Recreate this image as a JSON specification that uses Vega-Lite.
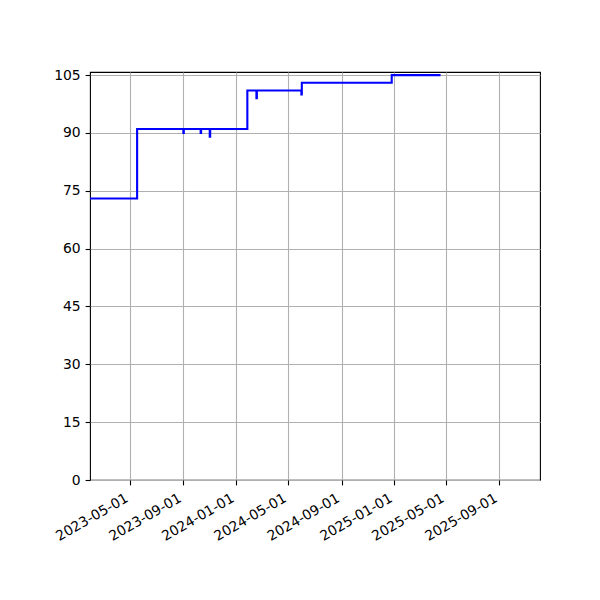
{
  "$schema": "https://vega.github.io/schema/vega-lite/v6.json",
  "width": 450,
  "height": 408,
  "autosize": {"type": "none"},
  "padding": {"left": 90, "top": 72, "right": 60, "bottom": 120},
  "background": "white",
  "config": {
    "view": {"stroke": "black", "strokeWidth": 1.1},
    "axis": {
      "domain": false,
      "grid": true,
      "gridColor": "#b0b0b0",
      "gridWidth": 1.1,
      "ticks": true,
      "tickColor": "black",
      "tickSize": 4.9,
      "tickWidth": 1.1,
      "labelFont": "DejaVu Sans",
      "labelFontSize": 13.9,
      "labelColor": "black",
      "labelPadding": 4.9,
      "labelOverlap": false,
      "title": null
    }
  },
  "data": {
    "values": [
      {"date": "2023-01-20", "value": 73},
      {"date": "2023-05-17", "value": 91},
      {"date": "2023-09-01", "value": 90},
      {"date": "2023-09-02", "value": 91},
      {"date": "2023-10-11", "value": 90},
      {"date": "2023-10-12", "value": 91},
      {"date": "2023-11-01", "value": 89},
      {"date": "2023-11-02", "value": 91},
      {"date": "2024-01-27", "value": 101},
      {"date": "2024-02-17", "value": 99},
      {"date": "2024-02-18", "value": 101},
      {"date": "2024-05-31", "value": 100},
      {"date": "2024-06-01", "value": 103},
      {"date": "2024-12-26", "value": 105},
      {"date": "2025-04-18", "value": 105}
    ]
  },
  "mark": {
    "type": "line",
    "interpolate": "step-after",
    "color": "#0000ff",
    "strokeWidth": 2.1,
    "clip": true
  },
  "encoding": {
    "x": {
      "field": "date",
      "type": "temporal",
      "scale": {
        "type": "utc",
        "domain": [
          {"year": 2023, "month": 1, "date": 28, "utc": true},
          {"year": 2025, "month": 12, "date": 4, "utc": true}
        ]
      },
      "axis": {
        "values": [
          {"year": 2023, "month": 5, "date": 1, "utc": true},
          {"year": 2023, "month": 9, "date": 1, "utc": true},
          {"year": 2024, "month": 1, "date": 1, "utc": true},
          {"year": 2024, "month": 5, "date": 1, "utc": true},
          {"year": 2024, "month": 9, "date": 1, "utc": true},
          {"year": 2025, "month": 1, "date": 1, "utc": true},
          {"year": 2025, "month": 5, "date": 1, "utc": true},
          {"year": 2025, "month": 9, "date": 1, "utc": true}
        ],
        "format": "%Y-%m-%d",
        "labelAngle": -30,
        "labelAlign": "right",
        "labelBaseline": "top",
        "labelOffset": -7,
        "labelPadding": 6
      }
    },
    "y": {
      "field": "value",
      "type": "quantitative",
      "scale": {"domain": [0, 105.8], "nice": false},
      "axis": {"values": [0, 15, 30, 45, 60, 75, 90, 105]}
    }
  }
}
